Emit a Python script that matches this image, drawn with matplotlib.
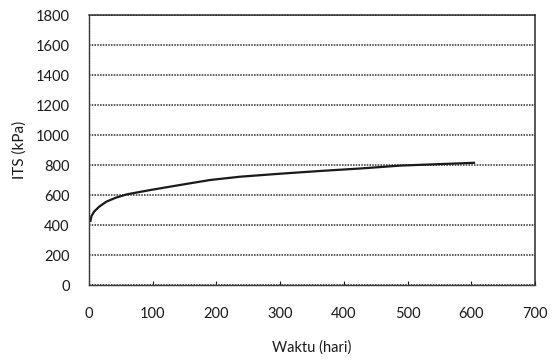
import matplotlib
matplotlib.use("Agg")
import matplotlib.pyplot as plt

# Data
waktu = [2, 4, 8, 16, 27, 42, 60, 96, 143, 190, 237, 300, 362, 430, 488, 550, 606]
its = [420, 460, 489, 522, 555, 582, 605, 633, 667, 700, 722, 742, 760, 778, 796, 806, 815]

x_ticks = [0, 100, 200, 300, 400, 500, 600, 700]
y_ticks = [0, 200, 400, 600, 800, 1000, 1200, 1400, 1600, 1800]

plt.rcParams['font.family'] = ['Lato', 'DejaVu Sans']

fig = plt.figure(figsize=(5.54, 3.60), dpi=100)
ax = fig.add_axes([0.1606, 0.2083, 0.8051, 0.75])

ax.plot(waktu, its, color='#1a1a1a', linewidth=1.6, solid_capstyle='butt', solid_joinstyle='round')

ax.set_xlim(0, 700)
ax.set_ylim(0, 1800)
ax.set_xticks(x_ticks)
ax.set_yticks(y_ticks)
ax.tick_params(axis='x', length=3, width=0.8, pad=16, labelsize=10.5, colors='#1a1a1a', direction='in')
ax.tick_params(axis='y', length=0, pad=14, labelsize=10.5, colors='#1a1a1a')

ax.grid(axis='y', color='#2a2a2a', linestyle=(0, (1, 0.8)), linewidth=1.1)
ax.set_axisbelow(True)

for side in ['top', 'right']:
    ax.spines[side].set_color('#2a2a2a')
    ax.spines[side].set_linewidth(1.1)
for side in ['left', 'bottom']:
    ax.spines[side].set_color('#3a3a3a')
    ax.spines[side].set_linewidth(1.0)
    ax.spines[side].set_linestyle((0, (1, 0.8)))

ax.set_xlabel('Waktu (hari)', fontsize=10.5, color='#1a1a1a', labelpad=14)
ax.set_ylabel('ITS (kPa)', fontsize=11, color='#1a1a1a', labelpad=6)

fig.savefig('out.png', dpi=100, facecolor='white')
